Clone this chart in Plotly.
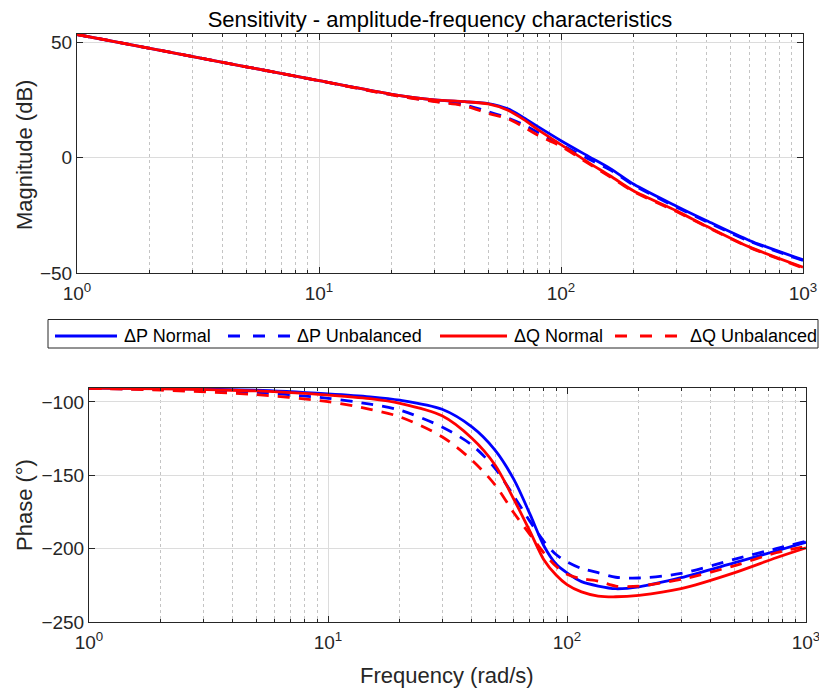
import plotly.graph_objects as go

# ---------------- data ----------------
freq_mag = [1, 2, 5, 10, 20, 30, 40, 50, 60, 70, 80, 100, 130, 160, 200, 300, 400, 600, 1000]
mag_p_normal = [53.3, 47.3, 39.3, 33.3, 27.4, 25.0, 24.2, 23.4, 21.2, 17.3, 13.5, 7.3, 0.5, -4.8, -11.6, -21.1, -27.4, -35.9, -44.3]
mag_p_unbal = [53.3, 47.3, 39.3, 33.3, 27.2, 24.4, 22.8, 19.9, 17.2, 14.2, 11.0, 5.6, -0.6, -5.4, -12.0, -21.5, -27.8, -36.2, -44.6]
mag_q_normal = [53.3, 47.3, 39.3, 33.3, 27.4, 25.0, 24.2, 23.2, 20.6, 16.5, 12.2, 5.6, -2.2, -8.0, -14.5, -23.1, -29.8, -38.7, -47.5]
mag_q_unbal = [53.3, 47.3, 39.3, 33.3, 27.1, 24.2, 22.4, 19.1, 16.9, 13.3, 9.7, 4.8, -2.6, -8.4, -14.8, -23.4, -30.0, -38.9, -47.8]

freq_ph = [1, 2, 5, 10, 15, 20, 30, 40, 50, 60, 70, 80, 90, 100, 115, 135, 160, 200, 300, 500, 750, 1000]
ph_p_normal = [-90.5, -90.9, -92.0, -94.5, -96.5, -98.8, -105.0, -117.0, -132.8, -153.0, -176.5, -198.0, -210.5, -216.5, -222.5, -225.5, -227.3, -226.0, -219.8, -209.7, -201.6, -195.6]
ph_p_unbal = [-90.7, -91.5, -93.5, -97.5, -101.5, -105.6, -117.0, -129.4, -145.2, -164.4, -181.4, -195.0, -204.0, -209.0, -213.5, -216.4, -219.5, -220.0, -216.9, -207.3, -200.0, -195.0]
ph_q_normal = [-90.5, -91.0, -92.5, -95.3, -97.8, -101.0, -109.5, -124.8, -143.0, -166.5, -188.2, -207.5, -218.0, -224.5, -229.5, -232.3, -232.8, -231.8, -227.3, -216.5, -206.2, -199.4]
ph_q_unbal = [-90.8, -92.0, -95.0, -99.8, -105.0, -110.2, -123.7, -139.6, -156.5, -175.7, -190.4, -202.9, -212.0, -217.5, -220.5, -222.1, -225.5, -225.5, -221.0, -211.7, -202.8, -198.4]

series_names = ["ΔP Normal", "ΔP Unbalanced", "ΔQ Normal", "ΔQ Unbalanced"]
x_tickvals = [1, 10, 100, 1000]
x_ticktext = ["10<sup>0</sup>", "10<sup>1</sup>", "10<sup>2</sup>", "10<sup>3</sup>"]
mag_ticks = [-50, 0, 50]
ph_ticks = [-250, -200, -150, -100]

# ---------------- styling ----------------
W, H = 819, 692
BLUE = "#0000FF"
RED = "#FF0000"
DASH = "12px,9px"
LW = 2.8
FONT = "Liberation Sans, Arial, sans-serif"
AXC = "#262626"

styles = [
    dict(color=BLUE, dash="solid"),
    dict(color=BLUE, dash=DASH),
    dict(color=RED, dash="solid"),
    dict(color=RED, dash=DASH),
]
mags = [mag_p_normal, mag_p_unbal, mag_q_normal, mag_q_unbal]
phs = [ph_p_normal, ph_p_unbal, ph_q_normal, ph_q_unbal]

fig = go.Figure()
for name, st, m in zip(series_names, styles, mags):
    fig.add_trace(go.Scatter(x=freq_mag, y=m, mode="lines", name=name,
                             line=dict(color=st["color"], dash=st["dash"], width=LW, shape="spline", smoothing=0.8),
                             xaxis="x", yaxis="y", showlegend=False))
for name, st, p in zip(series_names, styles, phs):
    fig.add_trace(go.Scatter(x=freq_ph, y=p, mode="lines", name=name,
                             line=dict(color=st["color"], dash=st["dash"], width=LW, shape="spline", smoothing=0.8),
                             xaxis="x2", yaxis="y2", showlegend=False))

minor_vals = [m * 10 ** k for k in range(3) for m in range(2, 10)]


def px(x):
    return x / W


def py(y):
    return 1 - y / H


def xaxis(domain, anchor):
    return dict(type="log", range=[0, 3], domain=domain, anchor=anchor, automargin=False,
                tickvals=x_tickvals, ticktext=x_ticktext, ticklabeloverflow="allow",
                showline=True, linecolor=AXC, linewidth=1, mirror="ticks",
                ticks="inside", ticklen=6, tickcolor=AXC, ticklabelstandoff=3,
                showgrid=True, gridcolor="#dcdcdc", gridwidth=1,
                minor=dict(tickvals=minor_vals, ticks="inside", ticklen=3, tickcolor=AXC,
                           showgrid=True, gridcolor="#c4c4c4", griddash="dot", gridwidth=1),
                tickfont=dict(family=FONT, size=19, color=AXC), zeroline=False)


def yaxis(domain, anchor, rng, tickvals):
    return dict(range=rng, domain=domain, anchor=anchor, tickvals=tickvals, automargin=False,
                showline=True, linecolor=AXC, linewidth=1, mirror="ticks",
                ticks="inside", ticklen=6, tickcolor=AXC,
                showgrid=True, gridcolor="#dcdcdc", gridwidth=1, zeroline=False,
                tickfont=dict(family=FONT, size=19, color=AXC))


annotations = [
    dict(text="Magnitude (dB)", x=px(24), y=py(155), xref="paper", yref="paper",
         textangle=-90, showarrow=False, xanchor="center", yanchor="middle",
         font=dict(family=FONT, size=22, color=AXC)),
    dict(text="Phase (°)", x=px(24), y=py(505), xref="paper", yref="paper",
         textangle=-90, showarrow=False, xanchor="center", yanchor="middle",
         font=dict(family=FONT, size=22, color=AXC)),
    dict(text="Frequency (rad/s)", x=px(447.5), y=py(675), xref="paper", yref="paper",
         showarrow=False, xanchor="center", yanchor="middle",
         font=dict(family=FONT, size=22, color=AXC)),
]

# custom legend (box, line samples, labels)
LEG_Y = 336
leg_lines = [(55, 117), (228, 290), (440, 507), (615, 679)]
leg_text_x = [122, 295, 512, 688]
leg_dash = ["solid", "12px,13px", "solid", "12px,13px"]
shapes = [dict(type="rect", xref="paper", yref="paper", x0=px(48), x1=px(818), y0=py(348), y1=py(319.5),
               line=dict(color=AXC, width=1), fillcolor="white", layer="above")]
for (x0, x1), st, dsh in zip(leg_lines, styles, leg_dash):
    shapes.append(dict(type="line", xref="paper", yref="paper", x0=px(x0), x1=px(x1), y0=py(LEG_Y), y1=py(LEG_Y),
                       line=dict(color=st["color"], width=LW, dash=dsh), layer="above"))
for name, tx in zip(series_names, leg_text_x):
    annotations.append(dict(text=name, x=px(tx), y=py(LEG_Y), xref="paper", yref="paper",
                            showarrow=False, xanchor="left", yanchor="middle",
                            font=dict(family=FONT, size=18, color="black")))

fig.update_layout(
    width=W, height=H,
    margin=dict(l=0, r=0, t=0, b=0, autoexpand=False),
    paper_bgcolor="white", plot_bgcolor="white",
    xaxis=xaxis([px(77), px(803)], "y"),
    yaxis=yaxis([py(273), py(34)], "x", [-50, 53.5], mag_ticks),
    xaxis2=xaxis([px(89), px(806)], "y2"),
    yaxis2=yaxis([py(622), py(388)], "x2", [-250, -90.5], ph_ticks),
    title=dict(text="Sensitivity - amplitude-frequency characteristics",
               x=px(440), xanchor="center", y=py(19), yanchor="middle",
               font=dict(family=FONT, size=22, color="black")),
    annotations=annotations,
    shapes=shapes,
    showlegend=False,
)

# remove the default 8px page margin so the figure fills the window exactly
fig.write_html("out.html",
               config={"displayModeBar": False},
               post_script="document.body.style.margin='0';document.body.style.overflow='hidden';")
